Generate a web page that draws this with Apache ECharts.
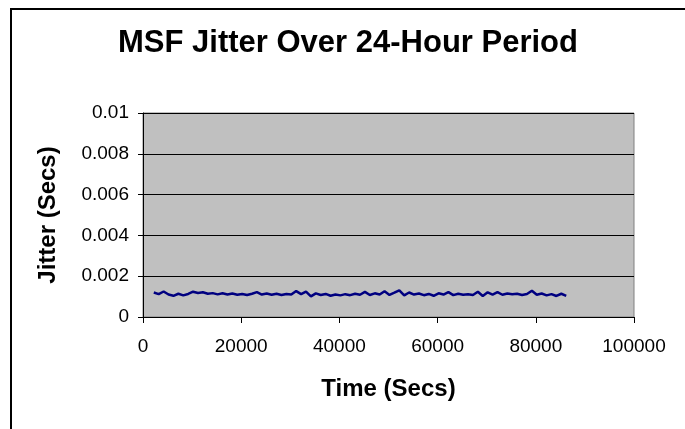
<!DOCTYPE html>
<html>
<head>
<meta charset="utf-8">
<script src="https://cdn.jsdelivr.net/npm/echarts@6/dist/echarts.min.js"></script>
<style>html,body{margin:0;padding:0;background:#fff;}#c{width:685px;height:429px;}</style>
</head>
<body>
<div id="c"></div>
<script>
const titleText = "MSF Jitter Over 24-Hour Period";
const xAxisTitle = "Time (Secs)";
const yAxisTitle = "Jitter (Secs)";
const xTicks = [0, 20000, 40000, 60000, 80000, 100000];
const yTicks = [0, 0.002, 0.004, 0.006, 0.008, 0.01];
const times = [2200,3200,4200,5200,6200,7200,8200,9200,10200,11200,12200,13200,14200,15200,16200,17200,18200,19200,20200,21200,22200,23200,24200,25200,26200,27200,28200,29200,30200,31200,32200,33200,34200,35200,36200,37200,38200,39200,40200,41200,42200,43200,44200,45200,46200,47200,48200,49200,50200,51200,52200,53200,54200,55200,56200,57200,58200,59200,60200,61200,62200,63200,64200,65200,66200,67200,68200,69200,70200,71200,72200,73200,74200,75200,76200,77200,78200,79200,80200,81200,82200,83200,84200,85200,86200];
const jitter = [0.00120,0.00112,0.00125,0.00110,0.00104,0.00114,0.00106,0.00113,0.00124,0.00118,0.00121,0.00114,0.00117,0.00111,0.00116,0.00110,0.00115,0.00109,0.00113,0.00108,0.00114,0.00122,0.00110,0.00115,0.00109,0.00114,0.00108,0.00113,0.00110,0.00127,0.00112,0.00124,0.00101,0.00116,0.00108,0.00113,0.00104,0.00110,0.00106,0.00112,0.00107,0.00114,0.00109,0.00123,0.00108,0.00116,0.00110,0.00126,0.00108,0.00119,0.00131,0.00106,0.00120,0.00110,0.00115,0.00107,0.00113,0.00104,0.00116,0.00110,0.00122,0.00107,0.00114,0.00109,0.00112,0.00108,0.00124,0.00103,0.00121,0.00110,0.00122,0.00109,0.00115,0.00111,0.00114,0.00108,0.00113,0.00129,0.00109,0.00115,0.00106,0.00112,0.00103,0.00114,0.00104];

const font = '"Liberation Sans", Arial, sans-serif';
const chart = echarts.init(document.getElementById('c'), null, {renderer: 'canvas'});
chart.setOption({
  animation: false,
  backgroundColor: '#ffffff',
  graphic: [
    {type: 'rect', shape: {x: 11, y: 9, width: 760, height: 520}, style: {fill: 'none', stroke: '#000', lineWidth: 2}, silent: true, z: 100},
    {type: 'text', x: 348, y: 43, style: {text: titleText, font: 'bold 31px ' + font, fill: '#000', textAlign: 'center', textVerticalAlign: 'middle'}, z: 100}
  ],
  grid: {left: 143, right: 51, top: 113, bottom: 112, show: true, backgroundColor: '#C0C0C0', borderColor: '#808080', borderWidth: 1},
  xAxis: {
    type: 'value', min: xTicks[0], max: xTicks[xTicks.length - 1], interval: 20000,
    name: xAxisTitle, nameLocation: 'middle', nameGap: 60,
    nameTextStyle: {fontFamily: font, fontWeight: 'bold', fontSize: 24, color: '#000'},
    axisLine: {show: true, onZero: false, lineStyle: {color: '#000', width: 1}},
    axisTick: {show: true, inside: false, length: 6, lineStyle: {color: '#000'}},
    axisLabel: {fontFamily: font, fontSize: 19, color: '#000', margin: 20,
      formatter: function (v) { return String(v); }},
    splitLine: {show: false}
  },
  yAxis: {
    type: 'value', min: yTicks[0], max: yTicks[yTicks.length - 1], interval: 0.002,
    name: yAxisTitle, nameLocation: 'middle', nameGap: 83,
    nameTextStyle: {fontFamily: font, fontWeight: 'bold', fontSize: 24, color: '#000'},
    axisLine: {show: true, lineStyle: {color: '#000', width: 1}},
    axisTick: {show: true, inside: false, length: 5, lineStyle: {color: '#000'}},
    axisLabel: {fontFamily: font, fontSize: 19, color: '#000', margin: 14,
      formatter: function (v) { return String(parseFloat(v.toFixed(4))); }},
    splitLine: {show: true, lineStyle: {color: '#000', width: 1}}
  },
  series: [{
    type: 'line',
    data: times.map(function (t, i) { return [t, jitter[i]]; }),
    showSymbol: false,
    lineStyle: {color: '#000080', width: 2.5},
    itemStyle: {color: '#000080'}
  }]
});
</script>
</body>
</html>
